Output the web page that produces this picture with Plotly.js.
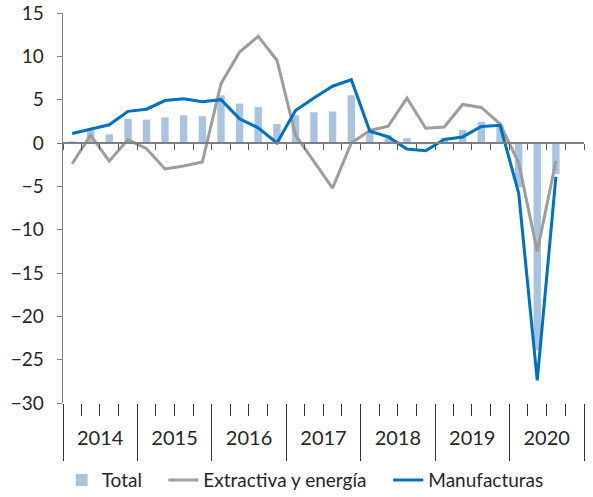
<!DOCTYPE html>
<html>
<head>
<meta charset="utf-8">
<script src="https://cdn.plot.ly/plotly-3.0.1.min.js"></script>
<style>
  html, body { margin: 0; padding: 0; background: #fff; }
  #chart { width: 593px; height: 497px; }
</style>
</head>
<body>
<div id="chart"></div>
<script>
// quarterly growth (%), 2014 T1 .. 2020 T4 (last quarter not published yet)
const years = ["2014", "2015", "2016", "2017", "2018", "2019", "2020"];
const quarterMonths = ["01", "04", "07", "10"];

const total = [
  0.2, 1.45, 1.0, 2.8,
  2.7, 2.95, 3.2, 3.1,
  5.5, 4.55, 4.15, 2.2,
  3.2, 3.55, 3.65, 5.5,
  1.25, 0.9, 0.55, -0.15,
  0.6, 1.5, 2.45, 2.1,
  -5.1, -23.9, -3.6, null,
];
const extractiva = [
  -2.4, 0.9, -2.1, 0.4,
  -0.65, -3.0, -2.65, -2.2,
  6.85, 10.5, 12.3, 9.55,
  0.9, -2.2, -5.2, 0.0,
  1.45, 1.95, 5.2, 1.7,
  1.85, 4.45, 4.1, 2.2,
  -2.3, -12.5, -2.1, null,
];
const manufacturas = [
  1.1, 1.6, 2.1, 3.65,
  3.9, 4.9, 5.1, 4.75,
  5.0, 2.8, 1.75, 0.0,
  3.75, 5.2, 6.55, 7.3,
  1.35, 0.7, -0.7, -0.9,
  0.4, 0.7, 1.9, 2.05,
  -5.8, -27.4, -3.9, null,
];

const yRange = [-30, 15];
const FONT = "Lato, 'Open Sans', sans-serif";
const TXT = "#262626";

// one date per quarter; marks sit in the middle of their quarter
const xDates = [];
years.forEach((y) => quarterMonths.forEach((m) => xDates.push(y + "-" + m + "-01")));
const xRange = [years[0] + "-01-01", (Number(years[years.length - 1]) + 1) + "-01-01"];

const period = { xperiod: "M3", xperiodalignment: "middle" };

const traces = [
  Object.assign({
    type: "bar", name: "Total", legend: "legend", showlegend: true,
    x: xDates, y: total,
    marker: { color: "#a9c4e1" },
    hoverinfo: "y",
  }, period),
  Object.assign({
    type: "scatter", mode: "lines", name: "Extractiva y energía", legend: "legend2",
    xaxis: "x2", x: xDates, y: extractiva,
    line: { color: "#9d9d9d", width: 3 },
  }, period),
  Object.assign({
    type: "scatter", mode: "lines", name: "Manufacturas", legend: "legend3",
    xaxis: "x2", x: xDates, y: manufacturas,
    line: { color: "#0070c0", width: 3 },
  }, period),
];

function legendAt(x) {
  return {
    orientation: "h", xref: "container", yref: "container",
    x: x, y: 0.034, xanchor: "left", yanchor: "middle",
    bgcolor: "rgba(0,0,0,0)", itemwidth: 30,
    font: { family: FONT, size: 19, color: TXT },
  };
}

const layout = {
  width: 593, height: 497,
  margin: { l: 63, r: 9, t: 13, b: 94 },
  paper_bgcolor: "#fff", plot_bgcolor: "#fff",
  font: { family: FONT, color: TXT },
  showlegend: true,
  bargap: 0.6,
  // bottom axis: long year dividers, short quarter ticks, year centred in its period
  xaxis: {
    type: "date", range: xRange,
    tickmode: "linear", tick0: xRange[0], dtick: "M12",
    tickformat: "%Y", ticklabelmode: "period",
    ticks: "outside", ticklen: 57, tickwidth: 1, tickcolor: "#333333",
    ticklabelstandoff: -40,
    minor: { ticks: "outside", tickmode: "linear", tick0: xRange[0], dtick: "M3",
             ticklen: 12, tickwidth: 1, tickcolor: "#333333", showgrid: false },
    showline: false, showgrid: false, zeroline: false,
    tickfont: { family: FONT, size: 20, color: TXT },
  },
  // the category axis drawn through zero, with ticks between quarters
  xaxis2: {
    overlaying: "x", anchor: "free",
    position: (0 - yRange[0]) / (yRange[1] - yRange[0]),
    type: "date", range: xRange,
    tickmode: "linear", tick0: xRange[0], dtick: "M3",
    ticks: "outside", ticklen: 6, tickwidth: 1, tickcolor: "#595959",
    showticklabels: false, showgrid: false, zeroline: false,
    showline: true, linecolor: "#7f7f7f", linewidth: 2,
  },
  yaxis: {
    range: yRange, tickmode: "linear", tick0: 0, dtick: 5,
    ticks: "outside", ticklen: 5, tickwidth: 1, tickcolor: "#7f7f7f",
    showline: true, linecolor: "#7f7f7f", linewidth: 1.5,
    showgrid: false, zeroline: false,
    ticklabelstandoff: 9,
    tickfont: { family: FONT, size: 19, color: TXT },
  },
  legend: legendAt(0.104),
  legend2: legendAt(0.2754),
  legend3: legendAt(0.6548),
};

Plotly.newPlot("chart", traces, layout, { displayModeBar: false, staticPlot: true });
</script>
</body>
</html>
